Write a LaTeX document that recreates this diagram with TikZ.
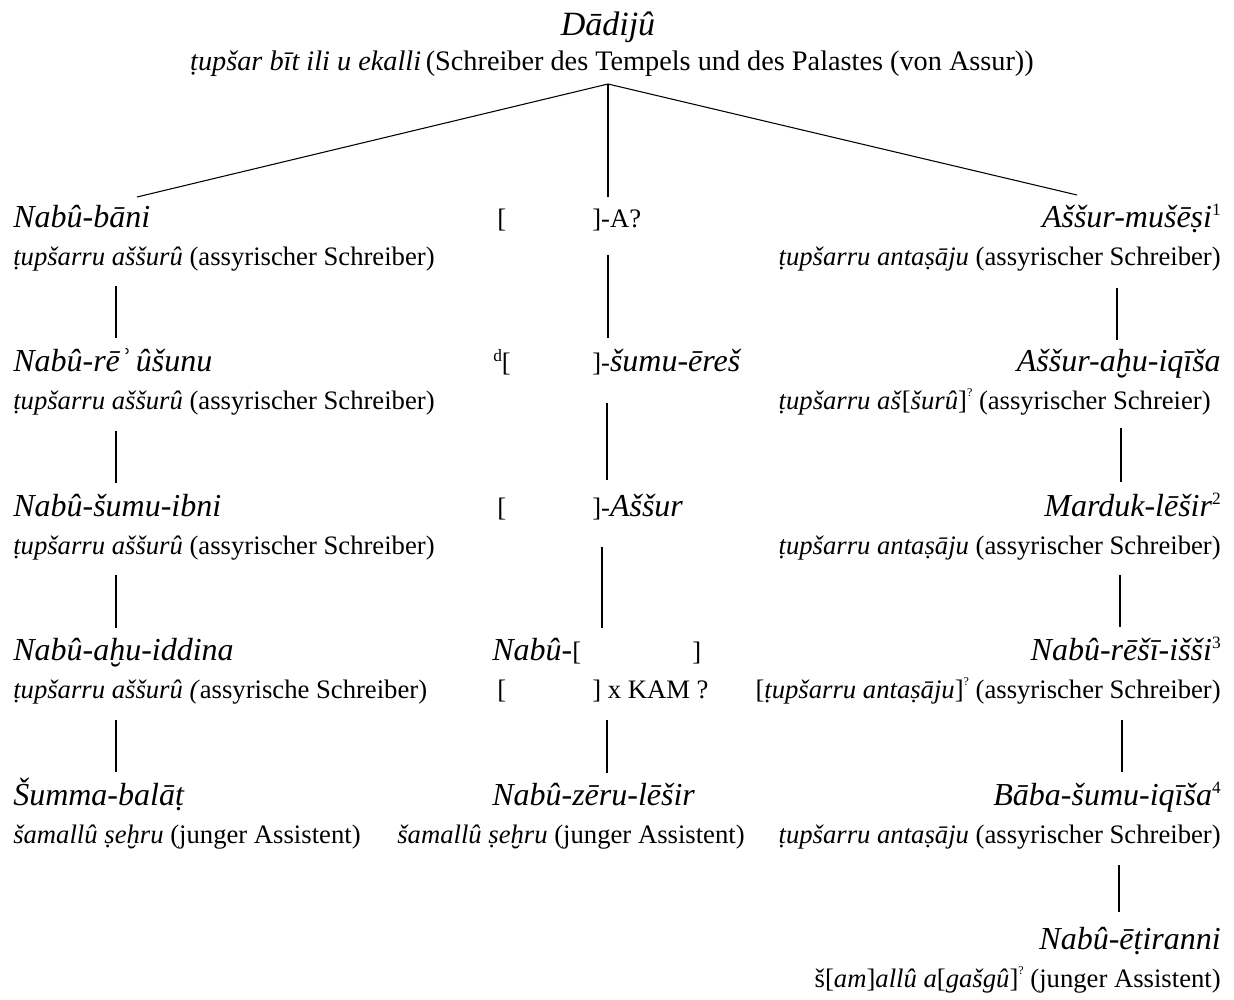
\documentclass[tikz,border=0pt]{standalone}
\usepackage{fontspec}
\setmainfont{Liberation Serif}
\newcommand\hochzahl[1]{\raisebox{0.8ex}{\fontsize{13}{13}\selectfont\upshape #1}}
\newcommand\fraglich{\raisebox{1.05ex}{\fontsize{9}{9}\selectfont\upshape ?}}
\newcommand\namefont{\fontsize{24}{28}\selectfont\itshape}
\begin{document}
\begin{tikzpicture}[x=0.75pt,y=-0.75pt,
  titel/.style={inner sep=0pt, anchor=base, font=\fontsize{25.5}{30}\selectfont\itshape},
  person/.style={inner sep=0pt, font=\namefont},
  amt/.style={inner sep=0pt, font=\fontsize{20}{24}\selectfont},
  links/.style={anchor=base west},
  rechts/.style={anchor=base east},
  linie/.style={line width=0.8pt}]
\useasboundingbox (0,0) rectangle (1234,999);

% head of the family
\node[titel] (dadiju) at (608,36) {Dādijû};
\node[amt, anchor=base, font=\fontsize{21.2}{25}\selectfont] (dadijuamt) at (612,70) {\textit{ṭupšar bīt ili u ekalli}\,(Schreiber des Tempels und des Palastes (von Assur))};

% left line
\node[person, links] (l1) at (13,227)   {Nabû-bāni};
\node[amt, links]    (l1a) at (13,265)  {\textit{ṭupšarru aššurû} (assyrischer Schreiber)};
\node[person, links] (l2) at (13,371.5) {Nabû-rēʾ\,ûšunu};
\node[amt, links]    (l2a) at (13,409.5){\textit{ṭupšarru aššurû} (assyrischer Schreiber)};
\node[person, links] (l3) at (13,516)   {Nabû-šumu-ibni};
\node[amt, links]    (l3a) at (13,554)  {\textit{ṭupšarru aššurû} (assyrischer Schreiber)};
\node[person, links] (l4) at (13,660.5) {Nabû-aḫu-iddina};
\node[amt, links]    (l4a) at (13,698.5){\textit{ṭupšarru aššurû (}assyrische Schreiber)};
\node[person, links] (l5) at (13,805)   {Šumma-balāṭ};
\node[amt, links]    (l5a) at (13,843)  {\textit{šamallû ṣeḫru} (junger Assistent)};

% middle line
\node[amt, links] (m1) at (497,227) {\makebox[71.25pt][l]{[}]-A?};
\node[amt, links] (m2) at (493,371.5) {\makebox[74.25pt][l]{\hochzahl{d}[}]-{\namefont šumu-ēreš}};
\node[amt, links] (m3) at (497,516) {\makebox[71.25pt][l]{[}]-{\namefont Aššur}};
\node[amt, links] (m4) at (492,660.5) {\makebox[150pt][l]{{\namefont Nabû-}[}]};
\node[amt, links] (m4a) at (497,698.5) {\makebox[71.25pt][l]{[}] x KAM ?};
\node[person, links] (m5) at (492,805) {Nabû-zēru-lēšir};
\node[amt, anchor=base] (m5a) at (571,843) {\textit{šamallû ṣeḫru} (junger Assistent)};

% right line
\node[person, rechts] (r1) at (1221,227)   {Aššur-mušēṣi\hochzahl{1}};
\node[amt, rechts]    (r1a) at (1221,265)  {\textit{ṭupšarru antaṣāju} (assyrischer Schreiber)};
\node[person, rechts] (r2) at (1221,371.5) {Aššur-aḫu-iqīša};
\node[amt, rechts]    (r2a) at (1211,409.5){\textit{ṭupšarru aš}[\textit{šurû}]\fraglich{} (assyrischer Schreier)};
\node[person, rechts] (r3) at (1221,516)   {Marduk-lēšir\hochzahl{2}};
\node[amt, rechts]    (r3a) at (1221,554)  {\textit{ṭupšarru antaṣāju} (assyrischer Schreiber)};
\node[person, rechts] (r4) at (1221,660.5) {Nabû-rēšī-išši\hochzahl{3}};
\node[amt, rechts]    (r4a) at (1221,698.5){[\textit{ṭupšarru antaṣāju}]\fraglich{} (assyrischer Schreiber)};
\node[person, rechts] (r5) at (1221,805)   {Bāba-šumu-iqīša\hochzahl{4}};
\node[amt, rechts]    (r5a) at (1221,843)  {\textit{ṭupšarru antaṣāju} (assyrischer Schreiber)};
\node[person, rechts] (r6) at (1221,949.5) {Nabû-ēṭiranni};
\node[amt, rechts]    (r6a) at (1221,987.5){š[\textit{am}]\textit{allû a}[\textit{gašgû}]\fraglich{} (junger Assistent)};

% branching below the head
\coordinate (gabel) at (608,84);
\coordinate (zl) at (137,197);
\coordinate (zm) at (608,197);
\coordinate (zr) at (1077,195);
\draw[linie] (zl) -- (gabel) -- (zr);
\draw[linie] (gabel) -- (zm);

% descent lines, left
\foreach \ya/\yb in {286/338, 431/483, 575/628, 720/772}
  \draw[linie] (116,\ya) -- (116,\yb);
% descent lines, middle
\draw[linie] (608,255) -- (608,338);
\draw[linie] (607,403) -- (607,480);
\draw[linie] (602,547) -- (602,628);
\draw[linie] (607,720) -- (607,773);
% descent lines, right
\draw[linie] (1117,288) -- (1117,340);
\draw[linie] (1121,428) -- (1121,482);
\draw[linie] (1120,575) -- (1120,627);
\draw[linie] (1122,720) -- (1122,772);
\draw[linie] (1119,865) -- (1119,912);
\end{tikzpicture}
\end{document}
